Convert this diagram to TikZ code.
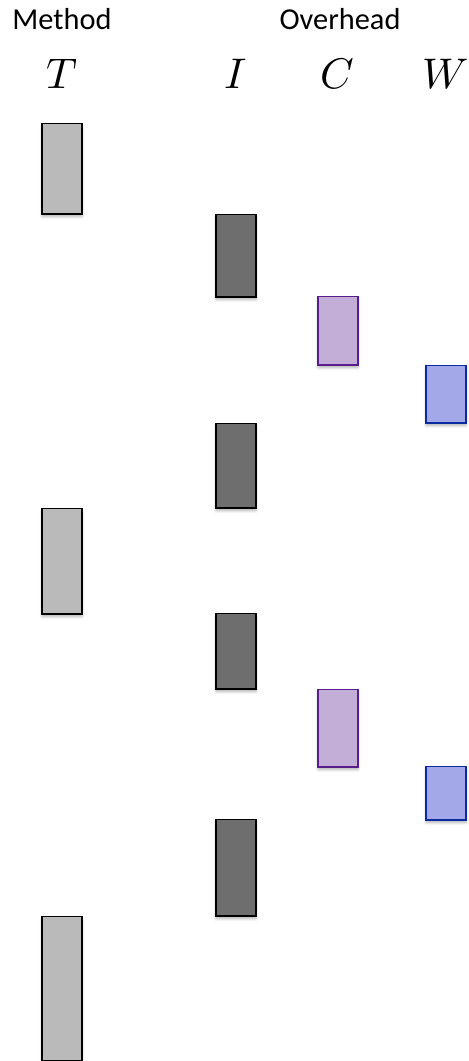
\documentclass[tikz,border=0pt]{standalone}
\usepackage{fontspec}
\usepackage{unicode-math}
\setmainfont{Carlito}
\setmathfont{Latin Modern Math}
\usepackage{tikz}
\usetikzlibrary{shadows.blur}
\definecolor{taskgray}{HTML}{BABABA}
\definecolor{inkgray}{HTML}{6E6E6E}
\definecolor{ckfill}{HTML}{C3AED8}
\definecolor{ckedge}{HTML}{5A1E8C}
\definecolor{wrfill}{HTML}{A3A9E8}
\definecolor{wredge}{HTML}{0A2A9E}
\tikzset{
  head/.style={anchor=base,inner sep=0pt,font=\fontsize{30.5}{35}\selectfont},
  letter/.style={anchor=base,inner sep=0pt,font=\fontsize{43}{48}\selectfont},
  slot/.style={draw=black,line width=1.5bp,minimum width=40bp,inner sep=0pt,anchor=north,
    blur shadow={shadow xshift=0bp,shadow yshift=-3bp,shadow blur radius=2.5bp,shadow opacity=30}},
  taskbox/.style={slot,fill=taskgray},
  initbox/.style={slot,fill=inkgray},
  ckbox/.style={slot,fill=ckfill,draw=ckedge},
  wrbox/.style={slot,fill=wrfill,draw=wredge}
}
\begin{document}
\begin{tikzpicture}[x=1bp,y=-1bp]
  \useasboundingbox (0,0) rectangle (469,1061);
  \node[head] (method) at (62,29) {Method};
  \node[head] (overhead) at (340,29) {Overhead};

  \node[letter] (colT) at (62,88) {$T$};
  \node[letter] (colI) at (236,88) {$I$};
  \node[letter] (colC) at (337,88) {$C$};
  \node[letter] (colW) at (446,88) {$W$};

  % staircase of phases, top to bottom
  \foreach \nm/\kind/\xc/\ytop/\ybot in {
      t1/taskbox/62/122.5/213, i1/initbox/236/213.5/296, c1/ckbox/338/295.5/364,
      w1/wrbox/446/364.5/422, i2/initbox/236/422.5/507, t2/taskbox/62/507.5/613,
      i3/initbox/236/612.5/688, c2/ckbox/338/688.5/766, w2/wrbox/446/765.5/819,
      i4/initbox/236/818.5/915, t3/taskbox/62/915.5/1059.5}
    \node[\kind,minimum height={(\ybot-\ytop)*1bp}] (\nm) at (\xc,\ytop) {};
\end{tikzpicture}
\end{document}
